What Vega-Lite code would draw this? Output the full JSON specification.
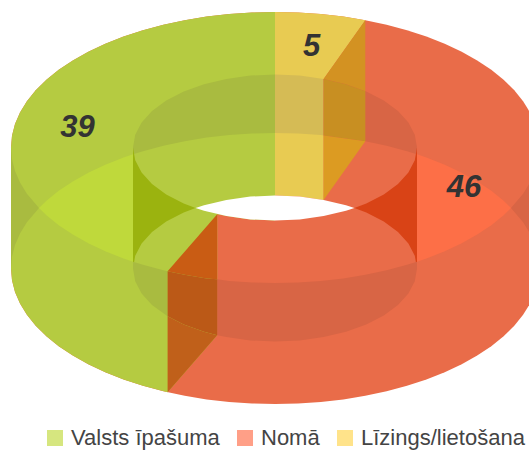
{"$schema":"https://vega.github.io/schema/vega-lite/v6.json","width":529,"height":452,"autosize":"none","padding":0,"background":"white","view":{"stroke":null},"projection":{"type":"identity","scale":1,"translate":[0,0]},"config":{"font":"Liberation Sans"},"layer":[
{"data":{"values":[
{"type":"Feature","properties":{"slice":"Nomā"},"geometry":{"type":"Polygon","coordinates":[[[11,147.5],[12,135.7],[15,124],[20,112.4],[26.9,101.2],[35.7,90.2],[46.4,79.7],[58.7,69.8],[72.8,60.4],[88.3,51.7],[105.3,43.7],[123.6,36.5],[143,30.2],[163.4,24.7],[184.7,20.2],[206.7,16.6],[229.2,14.1],[252,12.5],[275,12],[298,12.5],[320.8,14.1],[343.3,16.6],[365.3,20.2],[386.6,24.7],[407,30.2],[426.4,36.5],[444.7,43.7],[461.7,51.7],[477.2,60.4],[491.3,69.8],[503.6,79.7],[514.3,90.2],[523.1,101.2],[530,112.4],[535,124],[538,135.7],[539,147.5],[539,268.5],[538,280.3],[535,292],[530,303.6],[523.1,314.8],[514.3,325.8],[503.6,336.3],[491.3,346.2],[477.2,355.6],[461.7,364.3],[444.7,372.3],[426.4,379.5],[407,385.8],[386.6,391.3],[365.3,395.8],[343.3,399.4],[320.8,401.9],[298,403.5],[275,404],[252,403.5],[229.2,401.9],[206.7,399.4],[184.7,395.8],[163.4,391.3],[143,385.8],[123.6,379.5],[105.3,372.3],[88.3,364.3],[72.8,355.6],[58.7,346.2],[46.4,336.3],[35.7,325.8],[26.9,314.8],[20,303.6],[15,292],[12,280.3],[11,268.5],[11,147.5]]]}},
{"type":"Feature","properties":{"slice":"Valsts īpašuma"},"geometry":{"type":"Polygon","coordinates":[[[275,12],[252,12.5],[229.2,14.1],[206.7,16.6],[184.7,20.2],[163.4,24.7],[143,30.2],[123.6,36.5],[105.3,43.7],[88.3,51.7],[72.8,60.4],[58.7,69.8],[46.4,79.7],[35.7,90.2],[26.9,101.2],[20,112.4],[15,124],[12,135.7],[11,147.5],[11,268.5],[12,280.3],[15,292],[20,303.6],[26.9,314.8],[35.7,325.8],[46.4,336.3],[58.7,346.2],[72.8,355.6],[88.3,364.3],[105.3,372.3],[123.6,379.5],[143,385.8],[167.6,392.3],[217.2,335.2],[217.2,214.2],[226.4,216.1],[250.3,219.4],[275,220.5],[275,12]]]}},
{"type":"Feature","properties":{"slice":"Līzings/lietošana"},"geometry":{"type":"Polygon","coordinates":[[[275,12],[298,12.5],[320.8,14.1],[343.3,16.6],[365.3,20.2],[323.6,78.9],[323.6,199.9],[299.7,196.6],[275,195.5],[275,12]]]}}
]},"mark":{"type":"geoshape","strokeWidth":0},"encoding":{"fill":{"field":"properties.slice","type":"nominal","legend":null,"scale":{"domain":["Valsts īpašuma","Nomā","Līzings/lietošana"],"range":["#b5cb41","#e96c49","#e8cb52"]}}}},
{"data":{"values":[
{"type":"Feature","properties":{"tone":"green-dim"},"geometry":{"type":"Polygon","coordinates":[[[11,147.5],[12,159.3],[15,171],[20,182.6],[26.9,193.8],[39,208],[26.9,222.2],[20,233.4],[15,245],[12,256.7],[11,268.5],[11,147.5]]]}},
{"type":"Feature","properties":{"tone":"orange-dim"},"geometry":{"type":"Polygon","coordinates":[[[539,147.5],[538,159.3],[535,171],[530,182.6],[523.1,193.8],[511,208],[523.1,222.2],[530,233.4],[535,245],[538,256.7],[539,268.5],[539,147.5]]]}},
{"type":"Feature","properties":{"tone":"green-dim"},"geometry":{"type":"Polygon","coordinates":[[[275,74.5],[250.3,75.6],[226.4,78.9],[204,84.3],[183.7,91.6],[166.2,100.6],[152,111],[141.6,122.5],[135.2,134.8],[133,147.5],[133,154.3],[143,151.2],[163.4,145.7],[184.7,141.2],[206.7,137.6],[229.2,135.1],[252,133.5],[275,133],[275,74.5]]]}},
{"type":"Feature","properties":{"tone":"yellow-dim"},"geometry":{"type":"Polygon","coordinates":[[[275,74.5],[299.7,75.6],[323.6,78.9],[323.6,135.4],[320.8,135.1],[298,133.5],[275,133],[275,74.5]]]}},
{"type":"Feature","properties":{"tone":"orange-dim"},"geometry":{"type":"Polygon","coordinates":[[[323.6,78.9],[346,84.3],[366.3,91.6],[383.8,100.6],[398,111],[408.4,122.5],[414.8,134.8],[417,147.5],[417,154.3],[407,151.2],[386.6,145.7],[365.3,141.2],[323.6,135.4],[323.6,78.9]]]}},
{"type":"Feature","properties":{"tone":"green-bright"},"geometry":{"type":"Polygon","coordinates":[[[39,208],[46.4,200.7],[58.7,190.8],[72.8,181.4],[88.3,172.7],[105.3,164.7],[123.6,157.5],[133,154.3],[133,261.7],[123.6,258.5],[105.3,251.3],[88.3,243.3],[72.8,234.6],[58.7,225.2],[46.4,215.3],[39,208]]]}},
{"type":"Feature","properties":{"tone":"orange-bright"},"geometry":{"type":"Polygon","coordinates":[[[511,208],[503.6,200.7],[491.3,190.8],[477.2,181.4],[461.7,172.7],[444.7,164.7],[426.4,157.5],[417,154.3],[417,261.7],[426.4,258.5],[444.7,251.3],[461.7,243.3],[477.2,234.6],[491.3,225.2],[503.6,215.3],[511,208]]]}},
{"type":"Feature","properties":{"tone":"green-wall"},"geometry":{"type":"Polygon","coordinates":[[[133,147.5],[135.2,160.2],[141.6,172.5],[152,184],[166.2,194.4],[183.7,203.4],[195.6,208],[183.7,212.6],[166.2,221.6],[152,232],[141.6,243.5],[135.2,255.8],[133,268.5],[133,147.5]]]}},
{"type":"Feature","properties":{"tone":"orange-wall"},"geometry":{"type":"Polygon","coordinates":[[[417,147.5],[414.8,160.2],[408.4,172.5],[398,184],[383.8,194.4],[366.3,203.4],[354.4,208],[366.3,212.6],[383.8,221.6],[398,232],[408.4,243.5],[414.8,255.8],[417,268.5],[417,147.5]]]}},
{"type":"Feature","properties":{"tone":"green-dim"},"geometry":{"type":"Polygon","coordinates":[[[133,261.7],[143,264.8],[163.4,270.3],[167.6,271.3],[167.6,316.2],[152,305],[141.6,293.5],[135.2,281.2],[133,268.5],[133,261.7]]]}},
{"type":"Feature","properties":{"tone":"orange-dim"},"geometry":{"type":"Polygon","coordinates":[[[217.2,279.2],[229.2,280.9],[252,282.5],[275,283],[298,282.5],[320.8,280.9],[343.3,278.4],[365.3,274.8],[386.6,270.3],[407,264.8],[417,261.7],[417,268.5],[414.8,281.2],[408.4,293.5],[398,305],[383.8,315.4],[366.3,324.4],[346,331.7],[323.6,337.1],[299.7,340.4],[275,341.5],[250.3,340.4],[226.4,337.1],[217.2,335.2],[217.2,279.2]]]}},
{"type":"Feature","properties":{"tone":"cap-left-top"},"geometry":{"type":"Polygon","coordinates":[[[167.6,271.3],[217.2,214.2],[217.2,279.2],[206.7,278.4],[184.7,274.8],[167.6,271.3]]]}},
{"type":"Feature","properties":{"tone":"cap-left-mid"},"geometry":{"type":"Polygon","coordinates":[[[167.6,271.3],[184.7,274.8],[206.7,278.4],[217.2,279.2],[217.2,335.2],[204,331.7],[183.7,324.4],[167.6,316.2],[167.6,271.3]]]}},
{"type":"Feature","properties":{"tone":"cap-left-low"},"geometry":{"type":"Polygon","coordinates":[[[167.6,316.2],[183.7,324.4],[204,331.7],[217.2,335.2],[167.6,392.3],[167.6,316.2]]]}},
{"type":"Feature","properties":{"tone":"cap-right-top"},"geometry":{"type":"Polygon","coordinates":[[[365.3,20.2],[323.6,78.9],[346,84.3],[365.3,91.2],[365.3,20.2]]]}},
{"type":"Feature","properties":{"tone":"cap-right-mid"},"geometry":{"type":"Polygon","coordinates":[[[323.6,78.9],[346,84.3],[365.3,91.2],[365.3,141.2],[323.6,135.4],[323.6,78.9]]]}},
{"type":"Feature","properties":{"tone":"cap-right-low"},"geometry":{"type":"Polygon","coordinates":[[[323.6,135.4],[365.3,141.2],[323.6,199.9],[323.6,135.4]]]}},
{"type":"Feature","properties":{"tone":"hole"},"geometry":{"type":"Polygon","coordinates":[[[195.6,208],[204,205.3],[226.4,199.9],[250.3,196.6],[275,195.5],[299.7,196.6],[323.6,199.9],[346,205.3],[354.4,208],[346,210.7],[323.6,216.1],[299.7,219.4],[275,220.5],[250.3,219.4],[226.4,216.1],[204,210.7],[195.6,208]]]}}
]},"mark":{"type":"geoshape","strokeWidth":0},"encoding":{"fill":{"field":"properties.tone","type":"nominal","legend":null,"scale":{"domain":["green-dim","green-bright","green-wall","orange-dim","orange-bright","orange-wall","yellow-dim","cap-left-top","cap-left-mid","cap-left-low","cap-right-top","cap-right-mid","cap-right-low","hole"],"range":["#a9bb40","#bfd93b","#9bb30f","#d86545","#fd6f47","#d94316","#d5bb55","#c95c14","#bb5917","#c0601a","#d39222","#c88f22","#dc9b22","#ffffff"]}}}},
{"data":{"values":[{"slice":"Valsts īpašuma","label":39,"lon":77.5,"lat":128},{"slice":"Nomā","label":46,"lon":464,"lat":188},{"slice":"Līzings/lietošana","label":5,"lon":311.7,"lat":47}]},"layer":[
{"mark":{"type":"point","filled":true,"opacity":1,"size":0},"encoding":{"longitude":{"field":"lon","type":"quantitative"},"latitude":{"field":"lat","type":"quantitative"},"fill":{"field":"slice","type":"nominal","scale":{"domain":["Valsts īpašuma","Nomā","Līzings/lietošana"],"range":["#d6e67f","#ff9f87","#ffe38a"]},"legend":{"title":null,"orient":"none","legendX":44,"legendY":427,"direction":"horizontal","symbolType":"square","symbolSize":256,"symbolOpacity":1,"symbolStrokeWidth":0,"labelFont":"Liberation Sans","labelFontSize":22,"labelColor":"#444444","labelOffset":5,"labelLimit":400,"columnPadding":14}}}},
{"mark":{"type":"text","font":"Liberation Sans","fontSize":31,"fontWeight":"bold","fontStyle":"italic","color":"#333333","baseline":"middle","align":"center"},"encoding":{"longitude":{"field":"lon","type":"quantitative"},"latitude":{"field":"lat","type":"quantitative"},"text":{"field":"label","type":"quantitative"}}}
]}
],"resolve":{"scale":{"fill":"independent"}}}
